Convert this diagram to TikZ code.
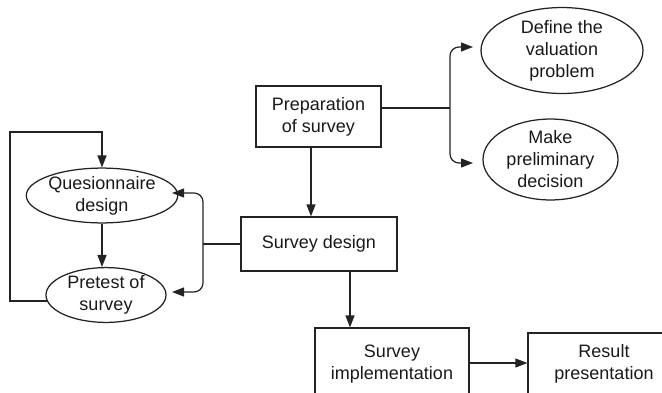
\documentclass[tikz,border=0pt]{standalone}
\usepackage{fontspec}
\setmainfont{Liberation Sans}
\usetikzlibrary{shapes.geometric,arrows.meta,calc}
\begin{document}
\begin{tikzpicture}[x=1pt,y=-1pt,
  line width=1.25pt, draw={rgb,255:red,35;green,35;blue,35},
  every node/.style={font=\fontsize{18}{22}\selectfont, text={rgb,255:red,25;green,25;blue,25}, align=center, inner sep=0pt},
  box/.style={draw, rectangle},
  oval/.style={draw, ellipse},
  arr/.style={-{Triangle[length=12pt,width=9pt]}},
  ]
\useasboundingbox (0,0) rectangle (662,392);
\clip (0,0) rectangle (662,392);
% nodes
\node[box, minimum width=125pt, minimum height=61pt] (prep) at (318.5,116.5) {Preparation\\of survey};
\node[box, minimum width=156pt, minimum height=54pt] (sd) at (319,244) {Survey design};
\node[box, minimum width=154pt, minimum height=72pt] (impl) at (392,364) {Survey\\implementation};
\node[box, minimum width=152pt, minimum height=62pt] (res) at (604,364) {Result\\presentation};
\node[oval, minimum width=140pt, minimum height=53pt] (q) at (102,195.5) {Quesionnaire\\design};
\node[oval, minimum width=120pt, minimum height=46pt] (p) at (106,295) {Pretest of\\survey};
\node[oval, minimum width=162pt, minimum height=81pt] (def) at (562,50.5) {Define the\\valuation\\problem};
\node[oval, minimum width=135pt, minimum height=75pt] (mk) at (550.5,159.5) {Make\\preliminary\\decision};
% branch from preparation
\coordinate (b1) at (450,108);
\coordinate (d1) at (473,47);
\coordinate (d2) at (473,163);
\draw (b1 -| prep.east) -- (b1);
\draw[arr, rounded corners=9pt] (b1) |- (d1);
\draw[arr, rounded corners=9pt] (b1) |- (d2);
% preparation -> survey design
\draw[arr] ([xshift=-7.5pt]prep.south) -- ([xshift=-7.5pt]prep.south |- sd.north);
% branch from survey design
\coordinate (b2) at (203,244);
\coordinate (e1) at (172,193);
\coordinate (e2) at (172,292);
\draw (sd.west) -- (b2);
\draw[arr, rounded corners=9pt] (b2) |- (e1);
\draw[arr, rounded corners=9pt] (b2) |- (e2);
% questionnaire -> pretest
\draw[arr] (q.south) -- (q.south |- p.north);
% feedback loop
\coordinate (l1) at (10,132);
\draw[arr] ([yshift=-6pt,xshift=2pt]p.west) -| (l1) -| (q.north);
% survey design -> implementation
\draw[arr] ([xshift=31pt]sd.south) -- ([xshift=31pt]sd.south |- impl.north);
% implementation -> result
\draw[arr] ([yshift=1pt]impl.east) -- ([yshift=1pt]impl.east -| res.west);
\end{tikzpicture}
\end{document}
